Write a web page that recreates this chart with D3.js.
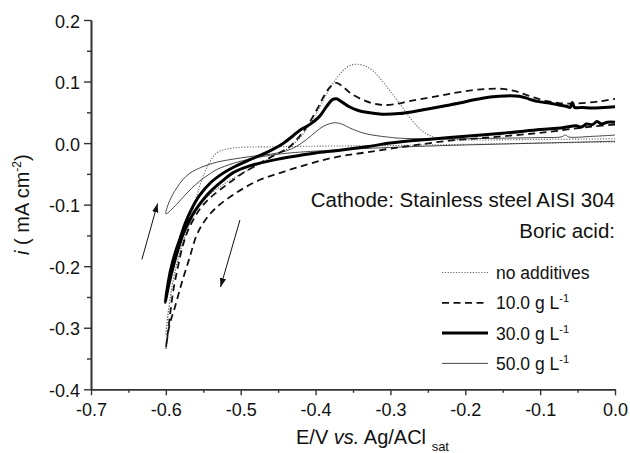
<!DOCTYPE html>
<html>
<head>
<meta charset="utf-8">
<script src="https://cdn.jsdelivr.net/npm/d3@7"></script>
<style>
  html, body { margin: 0; padding: 0; background: #fff; }
  svg { display: block; font-family: Arial, "Liberation Sans", sans-serif; }
</style>
</head>
<body>
<svg id="chart" width="630" height="453"></svg>
<script>
// Cyclic voltammograms on AISI 304 stainless steel, [E (V), i (mA cm^-2)]
// Each scan: cathodic sweep 0.0 -> -0.6 V, then anodic return to 0.0 V.
const noAdditives = [
  [0.000,0.002],[-0.100,0.000],[-0.200,-0.002],[-0.300,-0.004],[-0.400,-0.005],[-0.460,-0.006],
  [-0.500,-0.007],[-0.520,-0.010],[-0.532,-0.016],[-0.541,-0.030],[-0.549,-0.050],[-0.556,-0.075],
  [-0.563,-0.105],[-0.570,-0.135],[-0.579,-0.169],[-0.586,-0.200],[-0.592,-0.235],[-0.597,-0.280],
  [-0.600,-0.312],
  [-0.598,-0.285],[-0.594,-0.250],[-0.589,-0.215],[-0.582,-0.180],[-0.574,-0.148],[-0.562,-0.115],
  [-0.545,-0.088],[-0.522,-0.066],[-0.500,-0.050],[-0.478,-0.036],[-0.456,-0.021],[-0.436,-0.008],
  [-0.420,0.010],[-0.408,0.030],[-0.396,0.055],[-0.385,0.080],[-0.375,0.100],[-0.364,0.117],
  [-0.354,0.126],[-0.344,0.128],[-0.333,0.125],[-0.323,0.117],[-0.313,0.104],[-0.304,0.090],
  [-0.295,0.076],[-0.285,0.060],[-0.275,0.043],[-0.264,0.027],[-0.252,0.015],[-0.240,0.009],
  [-0.225,0.006],[-0.200,0.005],[-0.100,0.006],[0.000,0.007]
];
const boric10 = [
  [0.000,0.030],[-0.030,0.027],[-0.052,0.024],[-0.090,0.018],[-0.132,0.013],[-0.180,0.008],
  [-0.221,0.004],[-0.265,-0.003],[-0.300,-0.009],[-0.332,-0.015],[-0.360,-0.020],[-0.385,-0.026],
  [-0.412,-0.035],[-0.444,-0.047],[-0.475,-0.060],[-0.505,-0.080],[-0.532,-0.104],[-0.548,-0.126],
  [-0.559,-0.150],[-0.568,-0.185],[-0.579,-0.228],[-0.588,-0.267],[-0.595,-0.295],[-0.600,-0.333],
  [-0.597,-0.305],[-0.594,-0.275],[-0.590,-0.239],[-0.584,-0.202],[-0.577,-0.165],[-0.569,-0.138],
  [-0.555,-0.108],[-0.540,-0.088],[-0.519,-0.068],[-0.500,-0.051],[-0.479,-0.036],[-0.457,-0.021],
  [-0.437,-0.008],[-0.422,0.010],[-0.410,0.030],[-0.398,0.055],[-0.388,0.078],[-0.380,0.092],
  [-0.372,0.098],[-0.362,0.090],[-0.352,0.080],[-0.340,0.072],[-0.325,0.065],[-0.311,0.062],
  [-0.295,0.063],[-0.275,0.068],[-0.252,0.073],[-0.230,0.078],[-0.212,0.082],[-0.190,0.086],
  [-0.170,0.088],[-0.150,0.088],[-0.132,0.084],[-0.118,0.078],[-0.105,0.073],[-0.090,0.068],
  [-0.075,0.065],[-0.060,0.064],[-0.044,0.065],[-0.020,0.068],[0.000,0.072]
];
const boric30 = [
  [0.000,0.034],[-0.010,0.034],[-0.018,0.031],[-0.024,0.035],[-0.030,0.030],[-0.038,0.031],
  [-0.045,0.026],[-0.052,0.028],[-0.070,0.025],[-0.100,0.022],[-0.150,0.016],[-0.221,0.009],
  [-0.260,0.005],[-0.300,0.000],[-0.332,-0.006],[-0.370,-0.012],[-0.400,-0.016],[-0.421,-0.020],
  [-0.450,-0.026],[-0.488,-0.037],[-0.510,-0.048],[-0.524,-0.061],[-0.540,-0.078],[-0.551,-0.093],
  [-0.561,-0.110],[-0.568,-0.125],[-0.577,-0.148],[-0.584,-0.174],[-0.590,-0.200],[-0.596,-0.230],
  [-0.601,-0.259],
  [-0.598,-0.235],[-0.594,-0.208],[-0.588,-0.180],[-0.581,-0.155],[-0.574,-0.130],[-0.566,-0.108],
  [-0.555,-0.085],[-0.540,-0.064],[-0.525,-0.050],[-0.511,-0.040],[-0.488,-0.027],[-0.465,-0.015],
  [-0.444,-0.001],[-0.430,0.012],[-0.421,0.021],[-0.408,0.030],[-0.395,0.043],[-0.385,0.060],
  [-0.377,0.071],[-0.372,0.072],[-0.365,0.067],[-0.355,0.059],[-0.343,0.053],[-0.332,0.050],
  [-0.311,0.047],[-0.288,0.048],[-0.270,0.051],[-0.252,0.055],[-0.230,0.060],[-0.208,0.065],
  [-0.190,0.070],[-0.177,0.073],[-0.155,0.076],[-0.140,0.077],[-0.128,0.076],[-0.118,0.073],
  [-0.111,0.070],[-0.100,0.067],[-0.088,0.065],[-0.075,0.062],[-0.065,0.060],[-0.060,0.058],
  [-0.057,0.066],[-0.054,0.058],[-0.044,0.058],[-0.030,0.057],[-0.015,0.058],[0.000,0.059]
];
const boric50 = [
  [0.000,0.003],[-0.100,0.000],[-0.200,-0.003],[-0.300,-0.007],[-0.400,-0.013],[-0.450,-0.018],
  [-0.488,-0.026],[-0.510,-0.033],[-0.532,-0.043],[-0.545,-0.053],[-0.555,-0.062],[-0.566,-0.074],
  [-0.577,-0.088],[-0.586,-0.100],[-0.600,-0.115],
  [-0.597,-0.100],[-0.592,-0.086],[-0.585,-0.072],[-0.577,-0.059],[-0.568,-0.049],[-0.552,-0.039],
  [-0.532,-0.031],[-0.510,-0.026],[-0.488,-0.022],[-0.460,-0.018],[-0.440,-0.013],[-0.425,-0.005],
  [-0.412,0.006],[-0.400,0.018],[-0.390,0.027],[-0.380,0.032],[-0.373,0.033],[-0.365,0.031],
  [-0.355,0.025],[-0.343,0.019],[-0.332,0.015],[-0.318,0.012],[-0.305,0.010],[-0.288,0.008],
  [-0.250,0.007],[-0.200,0.007],[-0.150,0.008],[-0.100,0.009],[-0.072,0.010],[-0.066,0.013],
  [-0.062,0.010],[-0.030,0.011],[0.000,0.013]
];

const seriesNames = ["no additives", "10.0 g L", "30.0 g L", "50.0 g L"];
const seriesSup = ["", "-1", "-1", "-1"];

const xTicks = [-0.7, -0.6, -0.5, -0.4, -0.3, -0.2, -0.1, 0.0];
const xTickLabels = ["-0.7", "-0.6", "-0.5", "-0.4", "-0.3", "-0.2", "-0.1", "0.0"];
const xMinor = [-0.65, -0.55, -0.45, -0.35, -0.25, -0.15, -0.05];
const yTicks = [-0.4, -0.3, -0.2, -0.1, 0.0, 0.1, 0.2];
const yTickLabels = ["-0.4", "-0.3", "-0.2", "-0.1", "0.0", "0.1", "0.2"];
const yMinor = [-0.35, -0.25, -0.15, -0.05, 0.05, 0.15];

// Sweep-direction arrows [E, i] from tail to head
const sweepArrows = [
  [[-0.632, -0.189], [-0.611, -0.098]],
  [[-0.501, -0.125], [-0.527, -0.234]]
];

const svg = d3.select("#chart");
const plot = { left: 91, right: 615, top: 20, bottom: 389.3 };

const x = d3.scaleLinear().domain([-0.7, 0.0]).range([plot.left, plot.right]);
const y = d3.scaleLinear().domain([-0.4, 0.2]).range([plot.bottom, plot.top]);

const styles = [
  { stroke: "#666", width: 1.1, dash: "1.2,1.6" },
  { stroke: "#111", width: 1.8, dash: "7,4.5" },
  { stroke: "#000", width: 3, dash: null },
  { stroke: "#333", width: 0.9, dash: null }
];

const line = d3.line()
  .x(d => x(d[0]))
  .y(d => y(d[1]))
  .curve(d3.curveCatmullRom.alpha(0.5));

const allSeries = [noAdditives, boric10, boric30, boric50];
const curves = svg.append("g");
[0, 3, 1, 2].forEach(k => {
  curves.append("path")
    .attr("d", line(allSeries[k]))
    .attr("fill", "none")
    .attr("stroke", styles[k].stroke)
    .attr("stroke-width", styles[k].width)
    .attr("stroke-dasharray", styles[k].dash)
    .attr("stroke-linejoin", "round");
});

// Axes
const axisColor = "#333";
const fontSize = 18;
const titleSize = 20;

const xAxis = svg.append("g").attr("transform", `translate(0,${plot.bottom})`)
  .call(d3.axisBottom(x).tickValues(xTicks)
    .tickFormat((d, i) => xTickLabels[i]).tickSize(6).tickPadding(8).tickSizeOuter(0));
const xAxisMinor = svg.append("g").attr("transform", `translate(0,${plot.bottom})`)
  .call(d3.axisBottom(x).tickValues(xMinor).tickFormat("").tickSize(3.5).tickSizeOuter(0));
const yAxis = svg.append("g").attr("transform", `translate(${plot.left},0)`)
  .call(d3.axisLeft(y).tickValues(yTicks)
    .tickFormat((d, i) => yTickLabels[i]).tickSize(7).tickPadding(4).tickSizeOuter(0));
const yAxisMinor = svg.append("g").attr("transform", `translate(${plot.left},0)`)
  .call(d3.axisLeft(y).tickValues(yMinor).tickFormat("").tickSize(4).tickSizeOuter(0));

[xAxis, xAxisMinor, yAxis, yAxisMinor].forEach(g => {
  g.select(".domain").attr("stroke", axisColor).attr("stroke-width", 1.6);
  g.selectAll(".tick line").attr("stroke", axisColor).attr("stroke-width", 1.4);
  g.selectAll(".tick text")
    .attr("font-family", "Arial, 'Liberation Sans', sans-serif")
    .attr("font-size", fontSize).attr("fill", "#111");
});
yAxis.selectAll(".tick text").attr("dy", "0.4em");

// Axis titles
const xTitle = svg.append("text")
  .attr("x", 296).attr("y", 444)
  .attr("text-anchor", "start").attr("font-size", titleSize).attr("fill", "#111")
  .attr("xml:space", "preserve");
xTitle.append("tspan").text("E/V ");
xTitle.append("tspan").attr("font-style", "italic").text("vs.");
xTitle.append("tspan").text(" Ag/ACl ");
xTitle.append("tspan").attr("font-size", 13).attr("dy", 7).text("sat");

const yTitle = svg.append("text")
  .attr("transform", `translate(29,${(plot.top + plot.bottom) / 2}) rotate(-90)`)
  .attr("text-anchor", "middle").attr("font-size", titleSize).attr("fill", "#111");
yTitle.append("tspan").attr("font-style", "italic").text("i");
yTitle.append("tspan").text(" ( mA cm");
yTitle.append("tspan").attr("font-size", 12).attr("dy", -8).text("-2");
yTitle.append("tspan").attr("dy", 8).text(")");

// Annotations
svg.append("text").attr("x", 615).attr("y", 207).attr("text-anchor", "end")
  .attr("font-size", 20.5).attr("fill", "#111").text("Cathode: Stainless steel AISI 304");
svg.append("text").attr("x", 615).attr("y", 238).attr("text-anchor", "end")
  .attr("font-size", 20.5).attr("fill", "#111").text("Boric acid:");

// Legend
const legend = svg.append("g");
seriesNames.forEach((name, i) => {
  const by = 279 + i * 30.3;
  legend.append("line")
    .attr("x1", 442).attr("x2", 488).attr("y1", by - 6.5).attr("y2", by - 6.5)
    .attr("stroke", styles[i].stroke).attr("stroke-width", styles[i].width)
    .attr("stroke-dasharray", styles[i].dash);
  const t = legend.append("text").attr("x", 496).attr("y", by)
    .attr("font-size", 17.5).attr("fill", "#111");
  t.append("tspan").text(name);
  if (seriesSup[i]) t.append("tspan").attr("font-size", 11).attr("dy", -7).text(seriesSup[i]);
});

// Sweep-direction arrows
const defs = svg.append("defs");
defs.append("marker").attr("id", "head")
  .attr("viewBox", "0 0 10 10").attr("refX", 10).attr("refY", 5)
  .attr("markerWidth", 9).attr("markerHeight", 9).attr("markerUnits", "userSpaceOnUse")
  .attr("orient", "auto")
  .append("path").attr("d", "M0,1.5 L10,5 L0,8.5 Z").attr("fill", "#111");
sweepArrows.forEach(a => {
  svg.append("line")
    .attr("x1", x(a[0][0])).attr("y1", y(a[0][1]))
    .attr("x2", x(a[1][0])).attr("y2", y(a[1][1]))
    .attr("stroke", "#111").attr("stroke-width", 1)
    .attr("marker-end", "url(#head)");
});
</script>
</body>
</html>
